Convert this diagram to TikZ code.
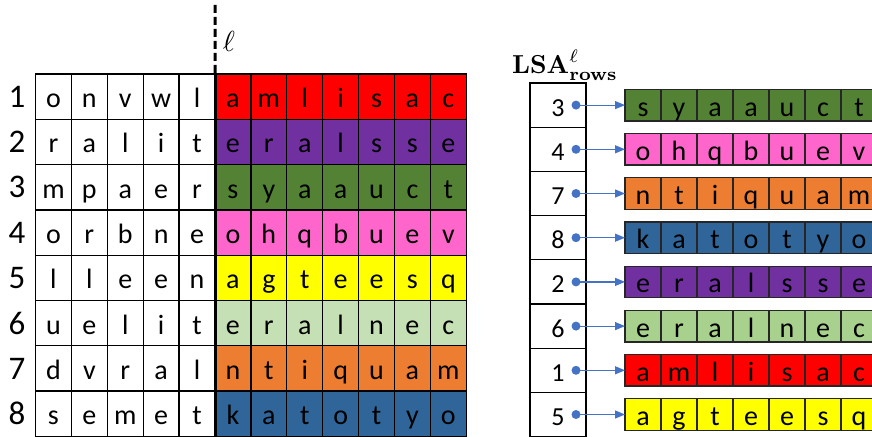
\documentclass[tikz,border=0pt]{standalone}
\usepackage[no-math]{fontspec}
\setmainfont{Carlito}
\usepackage{tikz}
\usetikzlibrary{arrows.meta}
\definecolor{rowred}{RGB}{255,0,0}
\definecolor{rowpurple}{RGB}{112,48,160}
\definecolor{rowgreen}{RGB}{84,130,53}
\definecolor{rowpink}{RGB}{255,102,204}
\definecolor{rowyellow}{RGB}{255,255,0}
\definecolor{rowlight}{RGB}{197,224,180}
\definecolor{rowlightb}{RGB}{169,209,142}
\definecolor{roworange}{RGB}{237,125,49}
\definecolor{rowblue}{RGB}{47,101,153}
\definecolor{ptrblue}{RGB}{68,114,196}
\definecolor{edgegray}{RGB}{38,38,38}
\tikzset{
  gridcell/.style={rectangle, draw=black, line width=1.3pt, outer sep=0pt,
    minimum width=35.9pt, minimum height=45.3pt, inner sep=0pt,
    text height=25pt, text depth=3pt, font=\fontsize{28}{30}\selectfont},
  stripcell/.style={rectangle, draw=edgegray, line width=1.3pt, outer sep=0pt,
    minimum width=36pt, minimum height=31.5pt, inner sep=0pt,
    text height=25pt, text depth=3pt, font=\fontsize{28}{30}\selectfont},
  idxcell/.style={rectangle, draw=black, line width=1.3pt, outer sep=0pt,
    minimum width=56pt, minimum height=44.2pt, inner sep=0pt,
    text height=22pt, text depth=0pt, font=\fontsize{26}{28}\selectfont},
  rownum/.style={inner sep=0pt, font=\fontsize{33}{36}\selectfont},
  dot/.style={circle, fill=ptrblue, inner sep=0pt, minimum size=9pt},
  ptr/.style={-{Triangle[length=10pt, width=8pt]}, line width=1.2pt, color=ptrblue}
}

\begin{document}
\begin{tikzpicture}[x=1pt, y=-1pt]
  \clip (0,0) rectangle (872,436);

  % Left table: row number, prefix part, coloured suffix part
  \foreach \r/\lw/\rw/\col in {
      1/{o,n,v,w,l}/{a,m,l,i,s,a,c}/rowred,
      2/{r,a,l,i,t}/{e,r,a,l,s,s,e}/rowpurple,
      3/{m,p,a,e,r}/{s,y,a,a,u,c,t}/rowgreen,
      4/{o,r,b,n,e}/{o,h,q,b,u,e,v}/rowpink,
      5/{l,l,e,e,n}/{a,g,t,e,e,s,q}/rowyellow,
      6/{u,e,l,i,t}/{e,r,a,l,n,e,c}/rowlight,
      7/{d,v,r,a,l}/{n,t,i,q,u,a,m}/roworange,
      8/{s,e,m,e,t}/{k,a,t,o,t,y,o}/rowblue} {
    \node[rownum] (num\r) at (17, {74+(\r-0.5)*45.3}) {\r};
    \foreach \ch [count=\c] in \lw
      \node[gridcell] (g\r-\c) at ({35.5+(\c-0.5)*35.9}, {74+(\r-0.5)*45.3}) {\ch};
    \foreach \ch [count=\c from 6] in \rw
      \node[gridcell, fill=\col] (g\r-\c) at ({35.5+(\c-0.5)*35.9}, {74+(\r-0.5)*45.3}) {\ch};
  }

  % Cut position l
  \coordinate (cut) at (215,5);
  \draw[line width=3pt, dash pattern=on 8pt off 4pt] (cut) -- (g1-5.north east);
  \draw[line width=3pt] (g1-5.north east) -- (g8-5.south east);
  \node[scale=2.9] (ell) at (229,41) {$\ell$};

  % Sorted rows with pointers
  \node[scale=2.6] (title) at (565,65) {$\mathbf{LSA}^{\ell}_{\mathbf{rows}}$};
  \foreach \k/\rw/\col [count=\i] in {
      3/{s,y,a,a,u,c,t}/rowgreen,
      4/{o,h,q,b,u,e,v}/rowpink,
      7/{n,t,i,q,u,a,m}/roworange,
      8/{k,a,t,o,t,y,o}/rowblue,
      2/{e,r,a,l,s,s,e}/rowpurple,
      6/{e,r,a,l,n,e,c}/rowlightb,
      1/{a,m,l,i,s,a,c}/rowred,
      5/{a,g,t,e,e,s,q}/rowyellow} {
    \node[idxcell] (idx\i) at (558, {83+(\i-0.5)*44.2}) {\k};
    \node[dot] (dot\i) at (576, {83+(\i-0.5)*44.2}) {};
    \foreach \ch [count=\c] in \rw
      \node[stripcell, fill=\col] (s\i-\c) at ({625+(\c-0.5)*36}, {83+(\i-0.5)*44.2}) {\ch};
    \draw[ptr] (dot\i.center) -- (s\i-1.west);
  }
\end{tikzpicture}
\end{document}
